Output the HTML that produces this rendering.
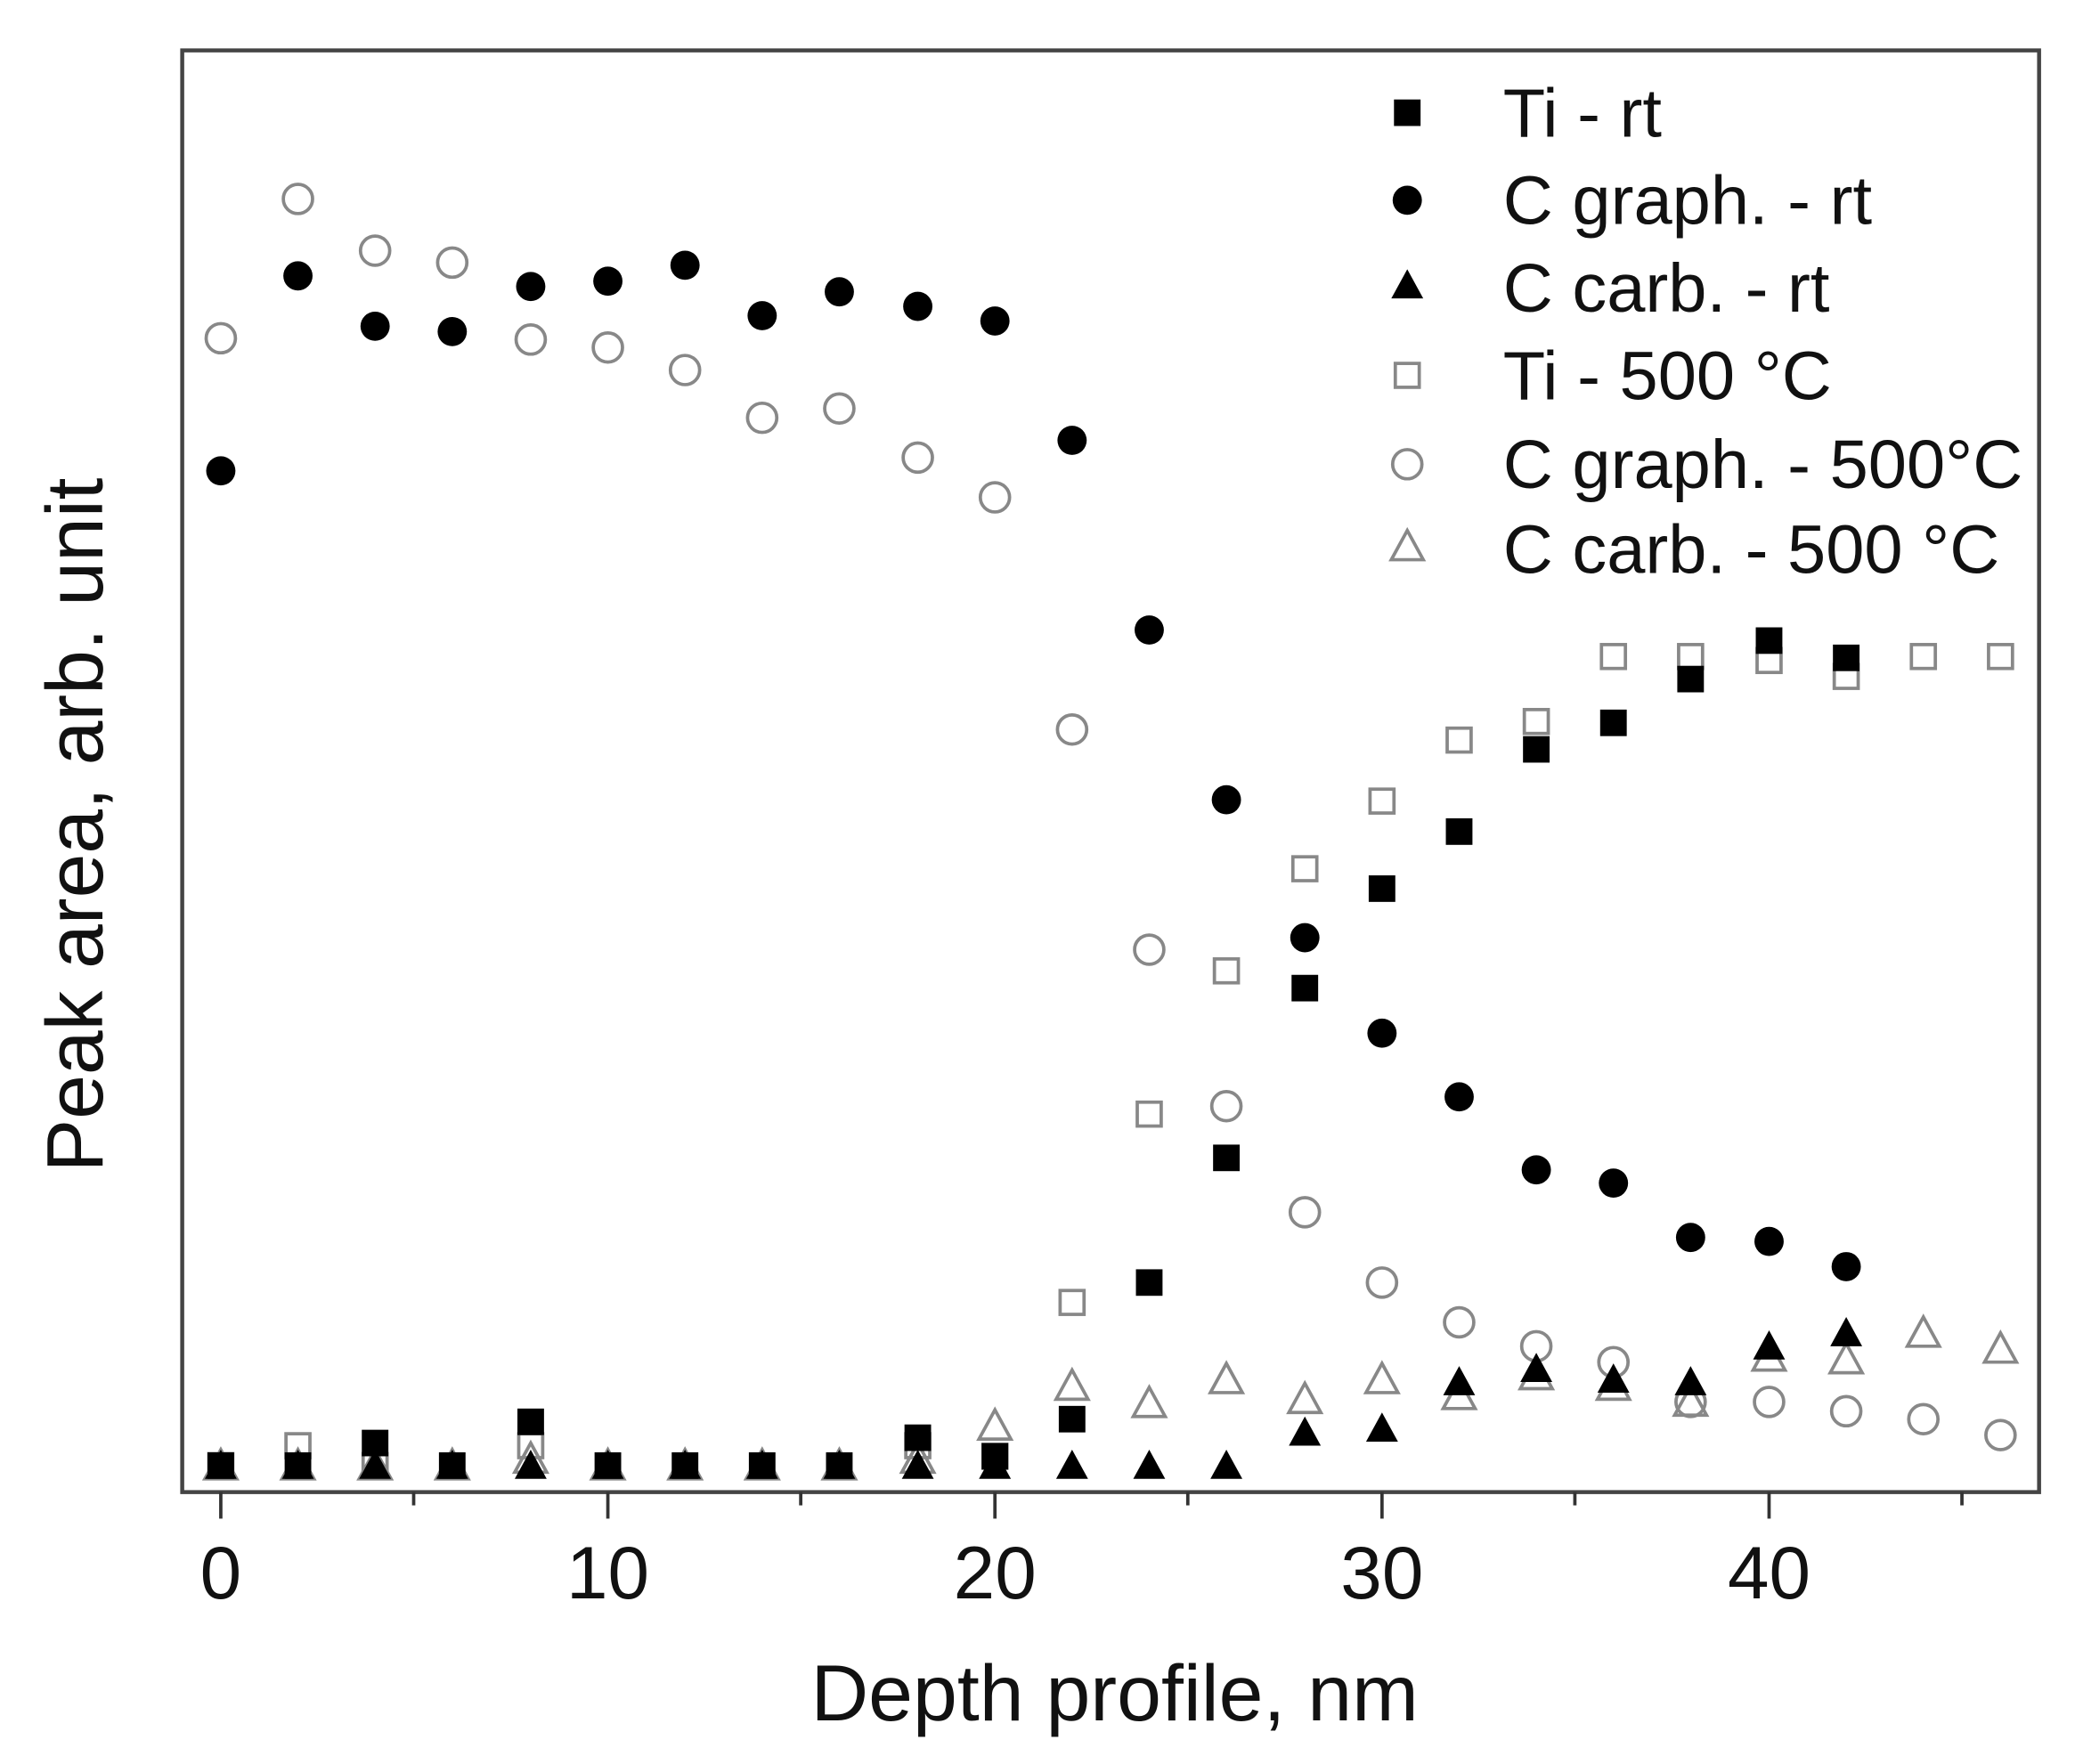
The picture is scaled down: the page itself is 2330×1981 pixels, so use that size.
<!DOCTYPE html>
<html><head><meta charset="utf-8"><style>html,body{margin:0;padding:0;background:#fff}svg{display:block}</style></head>
<body>
<svg width="2330" height="1981" viewBox="0 0 1560 1330" preserveAspectRatio="none" xmlns="http://www.w3.org/2000/svg" font-family="Liberation Sans, sans-serif">
<defs>
<rect id="fs" x="-10" y="-10" width="20" height="20" fill="#000"/>
<circle id="fc" r="11" fill="#000"/>
<path id="ft" d="M0,-12 L12,10 L-12,10 Z" fill="#000"/>
<rect id="os" x="-9" y="-9" width="18" height="18" fill="none" stroke="#888" stroke-width="2.5"/>
<circle id="oc" r="11" fill="none" stroke="#888" stroke-width="2.5"/>
<path id="ot" d="M0,-12 L12,10 L-12,10 Z" fill="none" stroke="#888" stroke-width="2.5"/>
</defs>
<rect x="137" y="38" width="1396" height="1087" fill="none" stroke="#444" stroke-width="3"/>
<g stroke="#333" stroke-width="2.5">
<line x1="166" y1="1125" x2="166" y2="1145"/><line x1="457" y1="1125" x2="457" y2="1145"/><line x1="748" y1="1125" x2="748" y2="1145"/><line x1="1039" y1="1125" x2="1039" y2="1145"/><line x1="1330" y1="1125" x2="1330" y2="1145"/>
<line x1="311" y1="1125" x2="311" y2="1135"/><line x1="602" y1="1125" x2="602" y2="1135"/><line x1="893" y1="1125" x2="893" y2="1135"/><line x1="1184" y1="1125" x2="1184" y2="1135"/><line x1="1475" y1="1125" x2="1475" y2="1135"/>
</g>
<g font-size="56" text-anchor="middle" fill="#111">
<text x="166" y="1205">0</text><text x="457" y="1205">10</text><text x="748" y="1205">20</text><text x="1039" y="1205">30</text><text x="1330" y="1205">40</text>
</g>
<text x="838" y="1297" font-size="60" text-anchor="middle" fill="#111">Depth profile, nm</text>
<text transform="translate(77,622) rotate(-90)" font-size="60" text-anchor="middle" fill="#111">Peak area, arb. unit</text>

<g id="data">
<!-- open triangles -->
<g>
<use href="#ot" x="166" y="1105"/><use href="#ot" x="224" y="1105"/><use href="#ot" x="282" y="1105"/><use href="#ot" x="340" y="1105"/><use href="#ot" x="399" y="1100"/><use href="#ot" x="457" y="1105"/><use href="#ot" x="515" y="1105"/><use href="#ot" x="573" y="1105"/><use href="#ot" x="631" y="1105"/><use href="#ot" x="690" y="1100"/><use href="#ot" x="748" y="1075"/><use href="#ot" x="806" y="1045"/><use href="#ot" x="864" y="1058"/><use href="#ot" x="922" y="1040"/><use href="#ot" x="981" y="1055"/><use href="#ot" x="1039" y="1040"/><use href="#ot" x="1097" y="1052"/><use href="#ot" x="1155" y="1037"/><use href="#ot" x="1213" y="1045"/><use href="#ot" x="1271" y="1057"/><use href="#ot" x="1330" y="1023"/><use href="#ot" x="1388" y="1025"/><use href="#ot" x="1446" y="1005"/><use href="#ot" x="1504" y="1017"/>
</g>
<!-- open squares -->
<g>
<use href="#os" x="166" y="1105"/><use href="#os" x="224" y="1090"/><use href="#os" x="282" y="1105"/><use href="#os" x="399" y="1090"/><use href="#os" x="690" y="1090"/><use href="#os" x="748" y="1098"/><use href="#os" x="806" y="982"/><use href="#os" x="864" y="840"/><use href="#os" x="922" y="732"/><use href="#os" x="981" y="655"/><use href="#os" x="1039" y="604"/><use href="#os" x="1097" y="558"/><use href="#os" x="1155" y="544"/><use href="#os" x="1213" y="495"/><use href="#os" x="1271" y="495"/><use href="#os" x="1330" y="498"/><use href="#os" x="1388" y="510"/><use href="#os" x="1446" y="495"/><use href="#os" x="1504" y="495"/>
</g>
<!-- open circles -->
<g>
<use href="#oc" x="166" y="255"/><use href="#oc" x="224" y="150"/><use href="#oc" x="282" y="189"/><use href="#oc" x="340" y="198"/><use href="#oc" x="399" y="256"/><use href="#oc" x="457" y="262"/><use href="#oc" x="515" y="279"/><use href="#oc" x="573" y="315"/><use href="#oc" x="631" y="308"/><use href="#oc" x="690" y="345"/><use href="#oc" x="748" y="375"/><use href="#oc" x="806" y="550"/><use href="#oc" x="864" y="716"/><use href="#oc" x="922" y="834"/><use href="#oc" x="981" y="914"/><use href="#oc" x="1039" y="967"/><use href="#oc" x="1097" y="997"/><use href="#oc" x="1155" y="1015"/><use href="#oc" x="1213" y="1027"/><use href="#oc" x="1271" y="1057"/><use href="#oc" x="1330" y="1057"/><use href="#oc" x="1388" y="1064"/><use href="#oc" x="1446" y="1070"/><use href="#oc" x="1504" y="1082"/>
</g>
<!-- filled squares -->
<g>
<use href="#fs" x="166" y="1105"/><use href="#fs" x="224" y="1105"/><use href="#fs" x="282" y="1088"/><use href="#fs" x="340" y="1105"/><use href="#fs" x="399" y="1072"/><use href="#fs" x="457" y="1105"/><use href="#fs" x="515" y="1105"/><use href="#fs" x="573" y="1105"/><use href="#fs" x="631" y="1105"/><use href="#fs" x="690" y="1084"/><use href="#fs" x="748" y="1098"/><use href="#fs" x="806" y="1070"/><use href="#fs" x="864" y="967"/><use href="#fs" x="922" y="873"/><use href="#fs" x="981" y="745"/><use href="#fs" x="1039" y="670"/><use href="#fs" x="1097" y="627"/><use href="#fs" x="1155" y="565"/><use href="#fs" x="1213" y="545"/><use href="#fs" x="1271" y="512"/><use href="#fs" x="1330" y="483"/><use href="#fs" x="1388" y="496"/>
</g>
<!-- filled circles -->
<g>
<use href="#fc" x="166" y="355"/><use href="#fc" x="224" y="208"/><use href="#fc" x="282" y="246"/><use href="#fc" x="340" y="250"/><use href="#fc" x="399" y="216"/><use href="#fc" x="457" y="212"/><use href="#fc" x="515" y="200"/><use href="#fc" x="573" y="238"/><use href="#fc" x="631" y="220"/><use href="#fc" x="690" y="231"/><use href="#fc" x="748" y="242"/><use href="#fc" x="806" y="332"/><use href="#fc" x="864" y="475"/><use href="#fc" x="922" y="603"/><use href="#fc" x="981" y="707"/><use href="#fc" x="1039" y="779"/><use href="#fc" x="1097" y="827"/><use href="#fc" x="1155" y="882"/><use href="#fc" x="1213" y="892"/><use href="#fc" x="1271" y="933"/><use href="#fc" x="1330" y="936"/><use href="#fc" x="1388" y="955"/>
</g>
<!-- filled triangles -->
<g>
<use href="#ft" x="166" y="1105"/><use href="#ft" x="224" y="1105"/><use href="#ft" x="282" y="1105"/><use href="#ft" x="340" y="1105"/><use href="#ft" x="399" y="1105"/><use href="#ft" x="457" y="1105"/><use href="#ft" x="515" y="1105"/><use href="#ft" x="573" y="1105"/><use href="#ft" x="631" y="1105"/><use href="#ft" x="690" y="1105"/><use href="#ft" x="748" y="1105"/><use href="#ft" x="806" y="1105"/><use href="#ft" x="864" y="1105"/><use href="#ft" x="922" y="1105"/><use href="#ft" x="981" y="1080"/><use href="#ft" x="1039" y="1077"/><use href="#ft" x="1097" y="1042"/><use href="#ft" x="1155" y="1032"/><use href="#ft" x="1213" y="1040"/><use href="#ft" x="1271" y="1042"/><use href="#ft" x="1330" y="1015"/><use href="#ft" x="1388" y="1005"/>
</g>
</g>

<!-- legend -->
<use href="#fs" x="1058" y="85"/>
<use href="#fc" x="1058" y="151"/>
<use href="#ft" x="1058" y="215"/>
<use href="#os" x="1058" y="283"/>
<use href="#oc" x="1058" y="350"/>
<use href="#ot" x="1058" y="412"/>
<g font-size="52" fill="#111">
<text x="1130" y="103">Ti - rt</text>
<text x="1130" y="169">C graph. - rt</text>
<text x="1130" y="235">C carb. - rt</text>
<text x="1130" y="301">Ti - 500 °C</text>
<text x="1130" y="368">C graph. - 500°C</text>
<text x="1130" y="432">C carb. - 500 °C</text>
</g>
</svg>
</body></html>
